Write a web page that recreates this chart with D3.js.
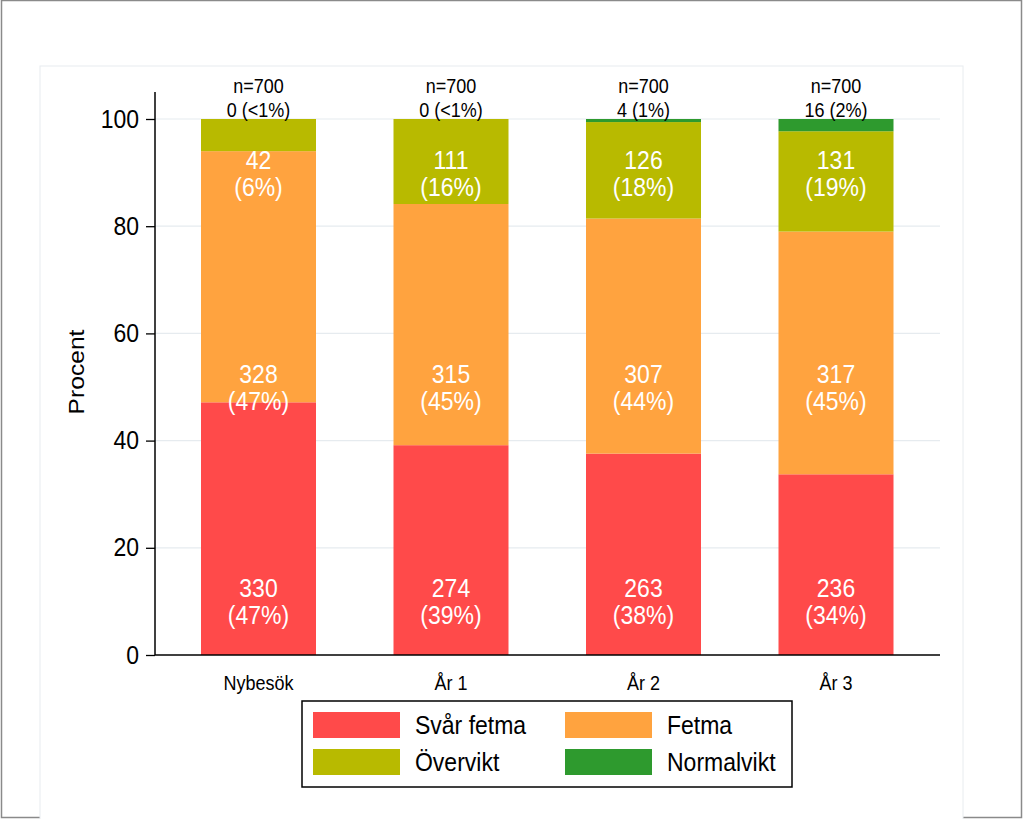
<!DOCTYPE html>
<html>
<head>
<meta charset="utf-8">
<script src="https://cdn.jsdelivr.net/npm/d3@7"></script>
<style>
  html, body { margin: 0; padding: 0; background: #fff; }
  svg { display: block; font-family: "Liberation Sans", Arial, sans-serif; }
</style>
</head>
<body>
<svg id="chart" width="1023" height="819"></svg>
<script>
// ---- data ----
const categories = ["Nybesök", "År 1", "År 2", "År 3"];
const seriesNames = ["Svår fetma", "Fetma", "Övervikt", "Normalvikt"];
const svarFetma = [330, 274, 263, 236];
const fetma = [328, 315, 307, 317];
const overvikt = [42, 111, 126, 131];
const normalvikt = [0, 0, 4, 16];
const totals = [700, 700, 700, 700];
const yTicks = [0, 20, 40, 60, 80, 100];
const colors = ["#ff4a4a", "#ffa33f", "#b8ba00", "#2e9a2e"];

const seriesValues = [svarFetma, fetma, overvikt, normalvikt];
// fixed label anchors (percent) per series, as in the original graph
const labelAnchors = [10, 50, 90, 103.8];

const SY = 1.1; // vertical stretch of text in the original
const svg = d3.select("#chart");

function txt(g, x, y, str, size, opts = {}) {
  return g.append("text")
    .attr("transform", `translate(${x},${y}) scale(1,${SY})`)
    .attr("text-anchor", opts.anchor || "middle")
    .attr("font-size", size)
    .attr("fill", opts.fill || "#000")
    .text(str);
}

// outer frame
svg.append("rect").attr("x", 1.5).attr("y", 0.5).attr("width", 1020).attr("height", 817)
  .attr("fill", "#fff").attr("stroke", "#8a8a8a").attr("stroke-width", 1.5);
// inner panel
svg.append("rect").attr("x", 40).attr("y", 66).attr("width", 923).attr("height", 760)
  .attr("fill", "#fff").attr("stroke", "#e8ecef").attr("stroke-width", 1);

const plot = { left: 155, right: 940, top: 92, bottom: 655 };

const x = d3.scalePoint().domain(categories).range([258.5, 836]);
const y = d3.scaleLinear().domain([0, 100]).range([655, 119]);

// gridlines
svg.append("g").selectAll("line").data(yTicks.filter(t => t > 0)).join("line")
  .attr("x1", plot.left).attr("x2", plot.right)
  .attr("y1", d => y(d)).attr("y2", d => y(d))
  .attr("stroke", "#e6ebef").attr("stroke-width", 1.2);

// stacked data
const rows = categories.map((c, i) => {
  const r = { cat: c, total: totals[i] };
  seriesNames.forEach((s, j) => r[s] = seriesValues[j][i] / totals[i] * 100);
  return r;
});
const stack = d3.stack().keys(seriesNames)(rows);

const bw = 115;
svg.append("g").selectAll("g").data(stack).join("g")
  .attr("fill", (d, i) => colors[i])
  .selectAll("rect").data(d => d).join("rect")
  .attr("x", d => x(d.data.cat) - bw / 2)
  .attr("width", bw)
  .attr("y", d => y(d[1]))
  .attr("height", d => y(d[0]) - y(d[1]));

// axes
const yAxis = d3.axisLeft(y).tickValues(yTicks).tickSize(9).tickFormat("");
const yg = svg.append("g").attr("transform", `translate(${plot.left},0)`).call(yAxis);
yg.select(".domain").remove();
yg.selectAll(".tick line").attr("stroke", "#000").attr("stroke-width", 1.3);
yTicks.forEach(t => txt(svg, 139, y(t) + 8.5, t, 23, { anchor: "end" }));

svg.append("line").attr("x1", plot.left).attr("x2", plot.left).attr("y1", plot.top).attr("y2", plot.bottom)
  .attr("stroke", "#000").attr("stroke-width", 1.5);
svg.append("line").attr("x1", plot.left).attr("x2", plot.right).attr("y1", plot.bottom).attr("y2", plot.bottom)
  .attr("stroke", "#000").attr("stroke-width", 1.5);

// x labels
categories.forEach(c => txt(svg, x(c), 690, c, 18));

// y title
svg.append("text").attr("transform", "translate(84,372) rotate(-90) scale(1.12,1)")
  .attr("text-anchor", "middle").attr("font-size", 22).attr("fill", "#000").text("Procent");

// value labels
function pctText(v, t) {
  const p = v / t * 100;
  if (v === 0) return "(<1%)";
  return "(" + Math.round(p) + "%)";
}
categories.forEach((c, i) => {
  const cx = x(c);
  for (let j = 0; j < 3; j++) {
    const v = seriesValues[j][i];
    const yc = y(labelAnchors[j]);
    txt(svg, cx, yc - 4, v, 23, { fill: "#fff" });
    txt(svg, cx, yc + 23, pctText(v, totals[i]), 23, { fill: "#fff" });
  }
  const yt = y(labelAnchors[3]);
  txt(svg, cx, yt - 6, "n=" + totals[i], 18);
  txt(svg, cx, yt + 18, normalvikt[i] + " " + pctText(normalvikt[i], totals[i]), 18);
});

// legend
const lg = svg.append("g");
lg.append("rect").attr("x", 302).attr("y", 701).attr("width", 490).attr("height", 86)
  .attr("fill", "#fff").attr("stroke", "#000").attr("stroke-width", 1.5);
seriesNames.forEach((s, i) => {
  const col = i % 2, row = Math.floor(i / 2);
  const sx = 313 + col * 252, sy = 712 + row * 37;
  lg.append("rect").attr("x", sx).attr("y", sy).attr("width", 87).attr("height", 26).attr("fill", colors[i]);
  txt(lg, sx + 102, sy + 22, s, 23, { anchor: "start" });
});
</script>
</body>
</html>
